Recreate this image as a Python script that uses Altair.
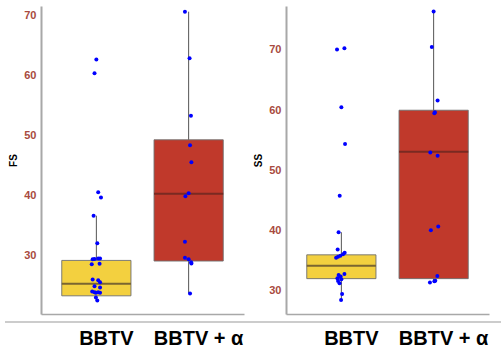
import altair as alt
import pandas as pd

groups = ["BBTV", "BBTV + α"]
group_pos = [1, 2]

# FS observations and their horizontal jitter (in group units)
fs_bbtv = [62.6, 60.3, 40.45, 39.6, 36.55, 31.95, 29.3, 29.35, 29.4, 29.4, 28.45, 28.55,
           25.9, 25.8, 25.45, 24.8, 24.6, 23.9, 23.8, 23.7, 23.8, 23.7, 22.9, 22.4]
fs_bbtv_jit = [0.0, -0.02, 0.02, 0.05, -0.03, 0.01, -0.04, -0.02, 0.02, 0.04, -0.05, 0.035,
               -0.04, 0.02, 0.04, -0.02, 0.04, -0.045, -0.02, -0.005, 0.02, 0.04, -0.005, 0.01]
fs_alpha = [70.55, 62.8, 53.2, 48.3, 45.45, 40.3, 39.8, 32.2, 29.55, 29.3, 28.8, 28.6, 23.6]
fs_alpha_jit = [-0.04, 0.01, 0.025, 0.015, 0.03, 0.0, -0.035, -0.04, -0.04, 0.0, 0.027, 0.03, 0.015]

# SS observations and jitter
ss_bbtv = [70.1, 70.3, 60.5, 54.4, 45.8, 39.75, 36.9, 36.35, 36.1, 35.85, 35.7, 35.5,
           32.8, 32.65, 32.4, 32.1, 31.95, 31.65, 31.3, 29.5, 28.5]
ss_bbtv_jit = [-0.047, 0.033, 0.0, 0.04, -0.018, -0.03, -0.04, 0.036, 0.018, -0.011, -0.036, -0.057,
               0.033, -0.03, -0.008, -0.043, 0.0, -0.036, -0.02, 0.008, -0.003]
ss_alpha = [76.4, 70.5, 61.6, 59.65, 59.5, 53.0, 52.45, 40.7, 40.1, 32.5, 31.7, 31.6, 31.4]
ss_alpha_jit = [0.0, -0.02, 0.043, 0.014, 0.008, -0.036, 0.043, 0.05, -0.03, 0.04, 0.018, 0.008, -0.04]

# Box summaries per group: whisker low, Q1, median, Q3, whisker high
fs_lo = [22.4, 23.6]
fs_q1 = [23.2, 29.0]
fs_med = [25.2, 40.2]
fs_q3 = [29.1, 49.2]
fs_hi = [36.55, 70.55]

ss_lo = [28.5, 31.4]
ss_q1 = [32.05, 32.05]
ss_med = [34.2, 53.1]
ss_q3 = [36.0, 60.0]
ss_hi = [39.75, 76.4]

box_fill = ["#f3d03f", "#c0392b"]
median_col = ["#7a6530", "#7a2a22"]

W, H = 203, 308
HALF = 0.375
TICK_COLOR = "#a84a40"
FONT = "Liberation Sans"


def panel(title, vals_a, jit_a, vals_b, jit_b, lo, q1, med, q3, hi, ydom, rule_x):
    pts = pd.DataFrame({
        "pos": [group_pos[0]] * len(vals_a) + [group_pos[1]] * len(vals_b),
        "jit": jit_a + jit_b,
        "val": vals_a + vals_b,
    })
    box = pd.DataFrame({
        "pos": group_pos, "group": groups, "lo": lo, "q1": q1, "med": med,
        "q3": q3, "hi": hi, "fill": box_fill, "mcol": median_col,
    })

    xscale = alt.Scale(domain=[0.4, 2.6], nice=False, zero=False)
    yscale = alt.Scale(domain=ydom, nice=False, zero=False)
    xaxis = alt.Axis(
        values=group_pos, title=None, ticks=False, grid=False, labels=False,
        domainColor="#a8a8a8", domainWidth=1.5,
    )
    yaxis = alt.Axis(
        values=[30, 40, 50, 60, 70], title=title, ticks=False, grid=False,
        labelFontSize=11, labelFontWeight="bold", labelColor=TICK_COLOR, labelFont=FONT,
        labelPadding=5, titleFontSize=10, titleFontWeight="bold", titleColor="black",
        titleFont=FONT, titlePadding=5, domainColor="#a8a8a8", domainWidth=2,
    )

    base = alt.Chart(box).transform_calculate(
        xl=f"datum.pos - {HALF}", xr=f"datum.pos + {HALF}"
    )
    whisker = base.mark_rule(color="#555555", strokeWidth=1).encode(
        x=alt.X("pos:Q", scale=xscale, axis=xaxis),
        y=alt.Y("lo:Q", scale=yscale, axis=yaxis),
        y2="hi:Q",
    )
    rect = base.mark_rect(stroke="#6f6f6f", strokeWidth=1, strokeOpacity=0.9).encode(
        x="xl:Q", x2="xr:Q", y="q1:Q", y2="q3:Q",
        fill=alt.Fill("fill:N", scale=None),
    )
    median = base.mark_rule(strokeWidth=2).encode(
        x="xl:Q", x2="xr:Q", y="med:Q",
        color=alt.Color("mcol:N", scale=None),
    )
    dots = alt.Chart(pts).transform_calculate(
        xp="datum.pos + datum.jit"
    ).mark_circle(size=16, color="#0000ff", opacity=1).encode(
        x="xp:Q", y="val:Q",
    )
    labels = base.mark_text(
        font=FONT, fontSize=20, fontWeight="bold", color="black",
        baseline="alphabetic", dx=10,
    ).encode(x="pos:Q", y=alt.value(H + 31), text="group:N")
    sep = alt.Chart(pd.DataFrame({"k": [0]})).mark_rule(
        color="#9a9a9a", strokeWidth=1.2
    ).encode(x=alt.value(rule_x[0]), x2=alt.value(rule_x[1]), y=alt.value(H + 8))

    return alt.layer(whisker, rect, median, dots, labels, sep).properties(width=W, height=H)


left = panel("FS", fs_bbtv, fs_bbtv_jit, fs_alpha, fs_alpha_jit,
             fs_lo, fs_q1, fs_med, fs_q3, fs_hi, [20.17, 71.5], (-36, 210))
right = panel("SS", ss_bbtv, ss_bbtv_jit, ss_alpha, ss_alpha_jit,
              ss_lo, ss_q1, ss_med, ss_q3, ss_hi, [26.18, 77.3], (-35, 215))

chart = alt.hconcat(left, right, spacing=42, bounds="flush").properties(
    padding={"left": 4, "top": 6, "right": 0, "bottom": 0},
    background="white",
).configure_view(stroke=None)

chart.save("out.html", embed_options={"renderer": "svg", "actions": False})
